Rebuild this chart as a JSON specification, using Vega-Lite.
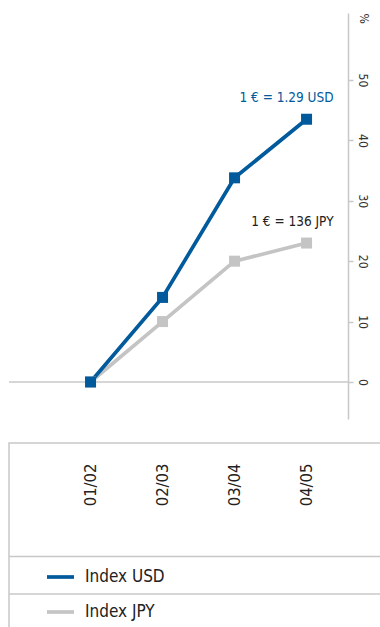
{
  "$schema": "https://vega.github.io/schema/vega-lite/v6.json",
  "padding": {"left": 7, "top": 12, "right": 0, "bottom": 0},
  "bounds": "flush",
  "spacing": 24,
  "config": {
    "view": {"stroke": null},
    "font": "DejaVu Sans Condensed, DejaVu Sans, sans-serif",
    "text": {"font": "DejaVu Sans Condensed, DejaVu Sans, sans-serif"}
  },
  "datasets": {
    "index": [
      {"period": "01/02", "series": "Index JPY", "value": 0},
      {"period": "02/03", "series": "Index JPY", "value": 10},
      {"period": "03/04", "series": "Index JPY", "value": 20},
      {"period": "04/05", "series": "Index JPY", "value": 23, "note": "1 € = 136 JPY"},
      {"period": "01/02", "series": "Index USD", "value": 0},
      {"period": "02/03", "series": "Index USD", "value": 14},
      {"period": "03/04", "series": "Index USD", "value": 33.8},
      {"period": "04/05", "series": "Index USD", "value": 43.5, "note": "1 € = 1.29 USD"}
    ],
    "baseline": [{"level": 0}],
    "legendRows": [{"row": "Index USD"}, {"row": "Index JPY"}]
  },
  "vconcat": [
    {
      "width": 339,
      "height": 406,
      "layer": [
        {
          "data": {"name": "baseline"},
          "mark": {"type": "rule", "color": "#c8c8c8", "strokeWidth": 1.5},
          "encoding": {"y": {"field": "level", "type": "quantitative"}}
        },
        {
          "data": {"name": "index"},
          "mark": {"type": "line", "strokeWidth": 3.7},
          "encoding": {
            "x": {
              "field": "period", "type": "ordinal",
              "scale": {"type": "point", "padding": 0.854, "align": 0.663},
              "axis": {
                "orient": "bottom", "domain": false, "ticks": false, "grid": false,
                "labelAngle": -90, "labelAlign": "right", "labelBaseline": "middle",
                "labelPadding": 44, "labelFontSize": 16.5, "labelColor": "#222", "title": null
              }
            },
            "y": {
              "field": "value", "type": "quantitative",
              "scale": {"domain": [-6.13, 61.09], "nice": false, "zero": false},
              "axis": {
                "orient": "right", "values": [0, 10, 20, 30, 40, 50], "grid": false,
                "labelAngle": 90, "labelAlign": "center", "labelBaseline": "middle",
                "labelPadding": 9, "labelFontSize": 12, "labelColor": "#333",
                "tickSize": 5, "tickColor": "#c8c8c8", "tickWidth": 1.5,
                "domainColor": "#c8c8c8", "domainWidth": 1.5,
                "title": "%", "titleAngle": 90, "titleX": 15, "titleY": 5,
                "titleAlign": "center", "titleBaseline": "middle",
                "titleFontSize": 12, "titleFontWeight": "normal", "titleColor": "#333"
              }
            },
            "color": {
              "field": "series", "type": "nominal",
              "scale": {"domain": ["Index USD", "Index JPY"], "range": ["#005a9c", "#c4c4c4"]},
              "legend": {
                "orient": "none", "legendX": 36, "legendY": 548.5, "title": null,
                "symbolType": "stroke", "symbolSize": 729, "symbolStrokeWidth": 3.7,
                "rowPadding": 11, "labelOffset": 9, "labelFontSize": 17,
                "labelColor": "#222", "padding": 0
              }
            }
          }
        },
        {
          "data": {"name": "index"},
          "mark": {"type": "point", "shape": "square", "filled": true, "size": 121, "opacity": 1},
          "encoding": {
            "x": {"field": "period", "type": "ordinal"},
            "y": {"field": "value", "type": "quantitative"},
            "color": {"field": "series", "type": "nominal"}
          }
        },
        {
          "data": {"name": "index"},
          "transform": [{"filter": "datum.note"}],
          "mark": {"type": "text", "align": "right", "baseline": "middle", "dx": 27, "dy": -21, "fontSize": 13.5},
          "encoding": {
            "x": {"field": "period", "type": "ordinal"},
            "y": {"field": "value", "type": "quantitative"},
            "text": {"field": "note"},
            "color": {"condition": {"test": "datum.series === 'Index USD'", "value": "#005a9c"}, "value": "#222"}
          }
        }
      ]
    },
    {
      "width": 371,
      "height": 184,
      "view": {"stroke": "#c8c8c8", "strokeWidth": 1.5, "strokeDash": [371, 555, 184]},
      "data": {"name": "legendRows"},
      "mark": {"type": "rule", "color": "#c8c8c8", "strokeWidth": 1.5},
      "encoding": {
        "y": {
          "field": "row", "type": "nominal", "bandPosition": 0,
          "scale": {"type": "band", "domain": ["Index USD", "Index JPY"], "range": [113.5, 188.5]},
          "axis": null
        }
      }
    }
  ]
}
